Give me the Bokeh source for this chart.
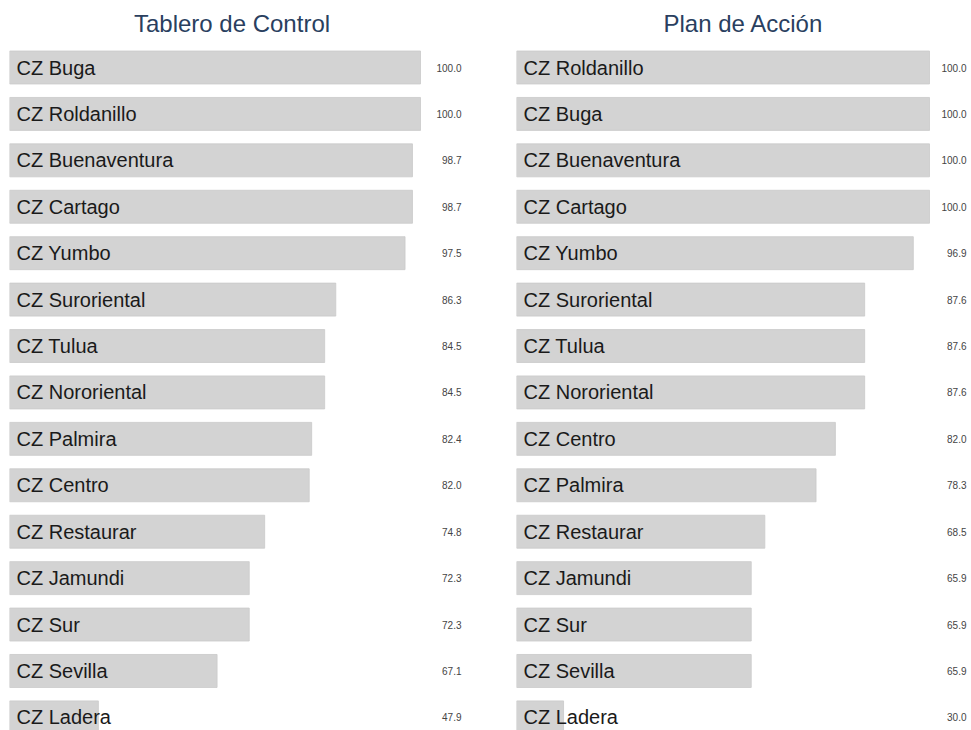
from bokeh.plotting import figure
from bokeh.models import ColumnDataSource, Range1d, Label
from bokeh.layouts import row
from bokeh.core.properties import value
from bokeh.embed import file_html
from bokeh.resources import INLINE

# ---- data ----
left_title = "Tablero de Control"
left_names = ["CZ Buga", "CZ Roldanillo", "CZ Buenaventura", "CZ Cartago", "CZ Yumbo",
              "CZ Suroriental", "CZ Tulua", "CZ Nororiental", "CZ Palmira", "CZ Centro",
              "CZ Restaurar", "CZ Jamundi", "CZ Sur", "CZ Sevilla", "CZ Ladera"]
left_values = [100.0, 100.0, 98.7, 98.7, 97.5, 86.3, 84.5, 84.5, 82.4, 82.0,
               74.8, 72.3, 72.3, 67.1, 47.9]

right_title = "Plan de Acción"
right_names = ["CZ Roldanillo", "CZ Buga", "CZ Buenaventura", "CZ Cartago", "CZ Yumbo",
               "CZ Suroriental", "CZ Tulua", "CZ Nororiental", "CZ Centro", "CZ Palmira",
               "CZ Restaurar", "CZ Jamundi", "CZ Sur", "CZ Sevilla", "CZ Ladera"]
right_values = [100.0, 100.0, 100.0, 100.0, 96.9, 87.6, 87.6, 87.6, 82.0, 78.3,
                68.5, 65.9, 65.9, 65.9, 30.0]

FONT = "Liberation Sans"
H = 730
PITCH = 46.42       # px per row
ROW0_PX = 67        # px from top of figure to center of first row
TITLE_PX = 23       # px from top of figure to title center


def panel(title, names, values, width, border_left, px_to_100, text_right_px, title_center_px):
    x0 = 0.7 * min(values)
    frame_w = width - border_left
    scale = px_to_100 / (100 - x0)
    x1 = x0 + frame_w / scale
    y_end = -ROW0_PX / PITCH
    y_start = y_end + H / PITCH

    p = figure(width=width, height=H, output_backend="svg", toolbar_location=None,
               x_range=Range1d(x0, x1), y_range=Range1d(y_start, y_end),
               min_border_left=border_left, min_border_right=0,
               min_border_top=0, min_border_bottom=0)
    p.axis.visible = False
    p.grid.visible = False
    p.outline_line_color = None
    p.background_fill_color = "white"

    ys = list(range(len(names)))
    src = ColumnDataSource(dict(
        y=ys, name=names, val=values,
        lab=[f"{v:.1f}" for v in values],
        left=[x0] * len(values),
        tx=[x0 + 7 / scale] * len(values),
        vx=[x0 + text_right_px / scale] * len(values),
    ))
    p.hbar(y="y", left="left", right="val", height=0.71, source=src,
           fill_color="#d3d3d3", line_color="#c9c9c9", line_width=0.8)
    p.text(x="tx", y="y", text="name", source=src, text_font=value(FONT),
           text_font_size="20px", text_color="#1a1a1a", text_baseline="middle",
           text_align="left")
    p.text(x="vx", y="y", text="lab", source=src, text_font=value(FONT),
           text_font_size="10px", text_color="#444444", text_baseline="middle",
           text_align="right")
    p.add_layout(Label(x=x0 + title_center_px / scale, y=y_end + TITLE_PX / PITCH,
                       text=title, text_font=FONT, text_font_size="24px",
                       text_color="#2a3f5f", text_align="center", text_baseline="middle"))
    return p


# left figure: x 0..490 ; right figure: x 490..971
p1 = panel(left_title, left_names, left_values, width=490, border_left=9,
           px_to_100=411, text_right_px=452, title_center_px=222.5)
p2 = panel(right_title, right_names, right_values, width=481, border_left=26,
           px_to_100=413, text_right_px=450, title_center_px=227)

layout = row(p1, p2)
open("out.html", "w").write(file_html(layout, INLINE))
